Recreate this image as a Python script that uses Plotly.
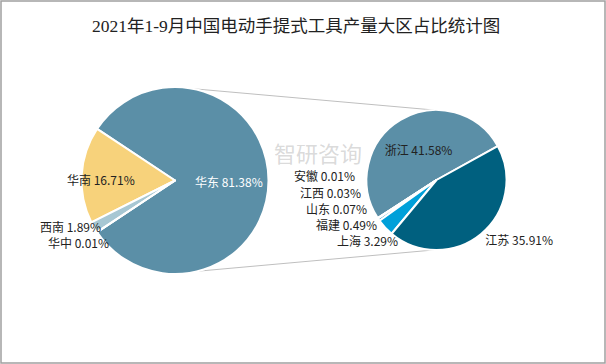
import math
import plotly.graph_objects as go

# ---- data ----
main_labels = ["华东", "华南", "西南", "华中"]
main_values = [81.38, 16.71, 1.89, 0.01]
main_colors = ["#5B8FA7", "#F7D27B", "#A7C7D3", "#C9DCE4"]

sub_labels = ["浙江", "安徽", "江西", "山东", "福建", "上海", "江苏"]
sub_values = [41.58, 0.01, 0.03, 0.07, 0.49, 3.29, 35.91]
sub_colors = ["#5B8FA7", "#9FC3D2", "#7FB3C8", "#3C9CC4", "#1A8EBF", "#00A0D9", "#00607F"]

title = "2021年1-9月中国电动手提式工具产量大区占比统计图"
watermark = "智研咨询"

W, H = 606, 364

# geometry (pixels)
m_cx, m_cy, m_r = 175, 180.5, 93.5
s_cx, s_cy, s_r = 436.5, 180, 70

# label placement (pixel anchor: right edge x, centre y) for labels placed by hand
main_label_pos = {"华东": (265, 181), "华南": (137, 179), "西南": (103, 226), "华中": (111, 242)}
sub_label_pos = {"安徽": (357, 176), "江西": (363, 192), "山东": (369, 208),
                 "福建": (379, 224), "上海": (400, 240)}
label_color = {"华东": "white"}


def dom(cx, cy, r):
    return dict(x=[(cx - r) / W, (cx + r) / W],
                y=[(H - cy - r) / H, (H - cy + r) / H])


def fmt(l, v):
    return f"{l} {v:.2f}%"


FONT = "Noto Sans CJK SC, Liberation Sans"

main_rot = 90 - main_values[0] / sum(main_values) * 360 / 2
sub_rot = 61 - sub_values[0] / sum(sub_values) * 360

fig = go.Figure()
fig.add_trace(go.Pie(
    labels=main_labels, values=main_values, sort=False, direction="counterclockwise",
    rotation=main_rot, domain=dom(m_cx, m_cy, m_r),
    marker=dict(colors=main_colors, line=dict(color="white", width=2)),
    text=[fmt(l, v) for l, v in zip(main_labels, main_values)],
    textinfo="text",
    textposition=["inside" if l not in main_label_pos else "none" for l in main_labels],
    insidetextorientation="horizontal",
    textfont=dict(size=12, color="white", family=FONT),
    showlegend=False, hoverinfo="label+value",
))
fig.add_trace(go.Pie(
    labels=sub_labels, values=sub_values, sort=False, direction="counterclockwise",
    rotation=sub_rot, domain=dom(s_cx, s_cy, s_r),
    marker=dict(colors=sub_colors, line=dict(color="white", width=2)),
    text=[fmt(l, v) for l, v in zip(sub_labels, sub_values)],
    textinfo="text",
    textposition=["none" if l in sub_label_pos else ("inside" if i == 0 else "outside")
                  for i, l in enumerate(sub_labels)],
    insidetextorientation="horizontal",
    textfont=dict(size=12, color="#222", family=FONT),
    showlegend=False, hoverinfo="label+value",
))


def pt(cx, cy, r, ang):
    a = math.radians(ang)
    return (cx + r * math.cos(a)) / W, (H - (cy - r * math.sin(a))) / H


shapes = []
for ma, sa in [(79, 92), (-76, -92)]:
    x0, y0 = pt(m_cx, m_cy, m_r, ma)
    x1, y1 = pt(s_cx, s_cy, s_r, sa)
    shapes.append(dict(type="line", xref="paper", yref="paper", x0=x0, y0=y0, x1=x1, y1=y1,
                       line=dict(color="#BFBFBF", width=1), layer="below"))
shapes.append(dict(type="rect", xref="paper", yref="paper", x0=1 / W, y0=1 / H,
                   x1=(W - 1) / W, y1=(H - 1) / H, line=dict(color="#A0A0A0", width=1.5)))

annotations = [
    dict(text=title, x=296 / W, y=(H - 26) / H, xref="paper", yref="paper", showarrow=False,
         font=dict(size=17.5, color="#222", family="Liberation Serif, Noto Sans CJK SC"),
         xanchor="center", yanchor="middle"),
    dict(text=watermark, x=318 / W, y=(H - 152) / H, xref="paper", yref="paper", showarrow=False,
         font=dict(size=22, color="rgba(160,160,160,0.4)", family="Noto Sans CJK SC")),
]
for labels, values, pos in [(main_labels, main_values, main_label_pos),
                            (sub_labels, sub_values, sub_label_pos)]:
    for l, v in zip(labels, values):
        if l in pos:
            px, py = pos[l]
            annotations.append(dict(text=fmt(l, v), x=px / W, y=(H - py) / H, xref="paper", yref="paper",
                                    showarrow=False, xanchor="right", yanchor="middle",
                                    font=dict(size=12, color=label_color.get(l, "#222"), family=FONT)))

fig.update_layout(
    width=W, height=H, margin=dict(l=0, r=0, t=0, b=0),
    paper_bgcolor="white", plot_bgcolor="white",
    shapes=shapes, annotations=annotations,
)

fig.write_html("out.html", config={"displayModeBar": False},
               post_script="document.body.style.margin='0';document.body.style.overflow='hidden';")
